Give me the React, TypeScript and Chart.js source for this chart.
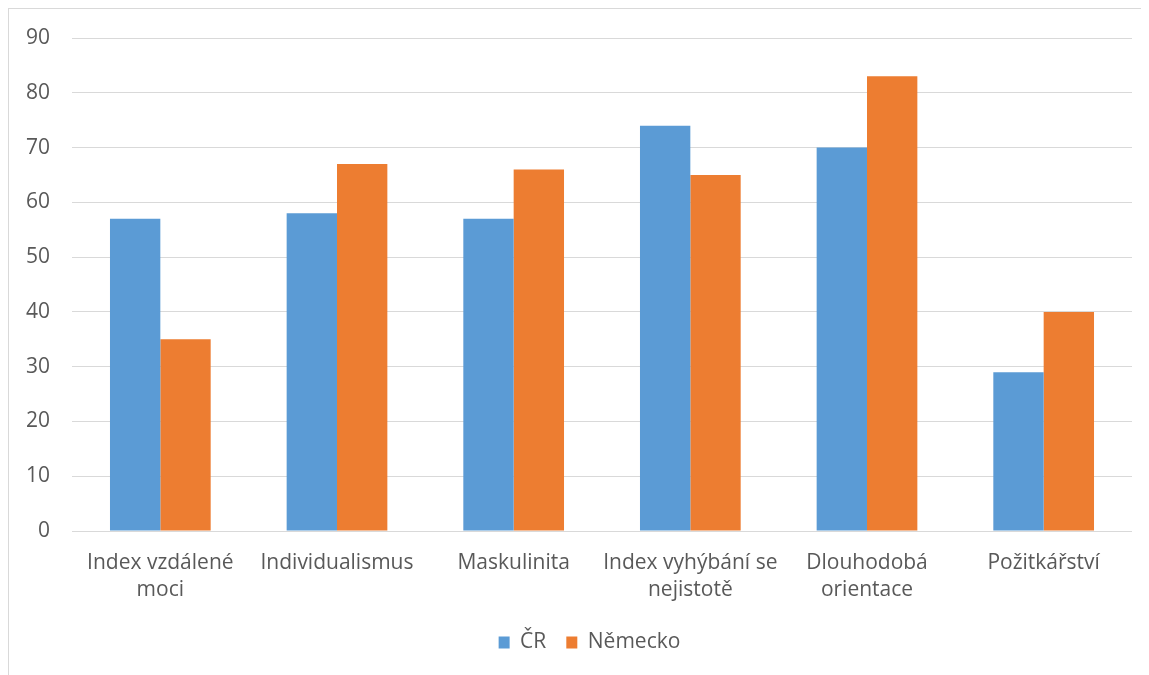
import React, { useEffect, useRef } from "react";
import { Chart, registerables } from "chart.js";

Chart.register(...registerables);

const categories: (string | string[])[] = [
  ["Index vzdálené", "moci"],
  "Individualismus",
  "Maskulinita",
  ["Index vyhýbání se", "nejistotě"],
  ["Dlouhodobá", "orientace"],
  "Požitkářství",
];
const seriesNames = ["ČR", "Německo"];
const crValues = [57, 58, 57, 74, 70, 29];
const deValues = [35, 67, 66, 65, 83, 40];
const yMin = 0;
const yMax = 90;
const yStep = 10;

const FONT = "'Open Sans', Lato, sans-serif";
const FS = 21;
const TEXT = "#595959";
const GRID = "#d9d9d9";
const LEGEND_SHIFT = 19;

const legendShift = {
  id: "legendShift",
  afterLayout(chart: any) {
    const lg = chart.legend;
    if (lg) {
      lg.left += LEGEND_SHIFT;
      lg.right += LEGEND_SHIFT;
    }
  },
};

export default function App() {
  const ref = useRef<HTMLCanvasElement | null>(null);
  useEffect(() => {
    document.body.style.overflow = "hidden";
    const ctx = ref.current!;
    const chart = new Chart(ctx, {
      type: "bar",
      data: {
        labels: categories,
        datasets: [
          {
            label: seriesNames[0],
            data: crValues,
            backgroundColor: "#5B9BD5",
            borderWidth: 0,
          },
          {
            label: seriesNames[1],
            data: deValues,
            backgroundColor: "#ED7D31",
            borderWidth: 0,
          },
        ],
      },
      plugins: [legendShift],
      options: {
        animation: false,
        responsive: false,
        maintainAspectRatio: false,
        layout: { padding: { left: 0, right: 17, top: 29, bottom: 12 } },
        datasets: { bar: { barPercentage: 1, categoryPercentage: 0.57 } },
        plugins: {
          tooltip: { enabled: false },
          legend: {
            position: "bottom",
            labels: {
              boxWidth: 11,
              boxHeight: 12,
              padding: 20,
              color: TEXT,
              font: { family: FONT, size: FS },
            },
          },
        },
        scales: {
          x: {
            grid: { display: false, drawTicks: false },
            border: { display: false },
            ticks: {
              color: TEXT,
              padding: 19,
              maxRotation: 0,
              autoSkip: false,
              font: { family: FONT, size: FS, lineHeight: 1.27 },
            },
            afterFit: (s: any) => {
              s.height = 81;
            },
          },
          y: {
            min: yMin,
            max: yMax,
            grid: { color: GRID, lineWidth: 1, drawTicks: false },
            border: { display: false },
            ticks: {
              stepSize: yStep,
              color: TEXT,
              padding: 22,
              font: { family: FONT, size: FS },
            },
            afterFit: (s: any) => {
              s.width = 63;
              s.paddingTop = 0;
              s.paddingBottom = 0;
            },
          },
        },
      },
    });
    return () => chart.destroy();
  }, []);
  return (
    <div
      style={{
        width: 1141,
        height: 667,
        borderLeft: "1px solid #d9d9d9",
        borderTop: "1px solid #d9d9d9",
        boxSizing: "border-box",
        background: "#fff",
      }}
    >
      <canvas ref={ref} width={1140} height={666} style={{ display: "block" }} />
    </div>
  );
}
